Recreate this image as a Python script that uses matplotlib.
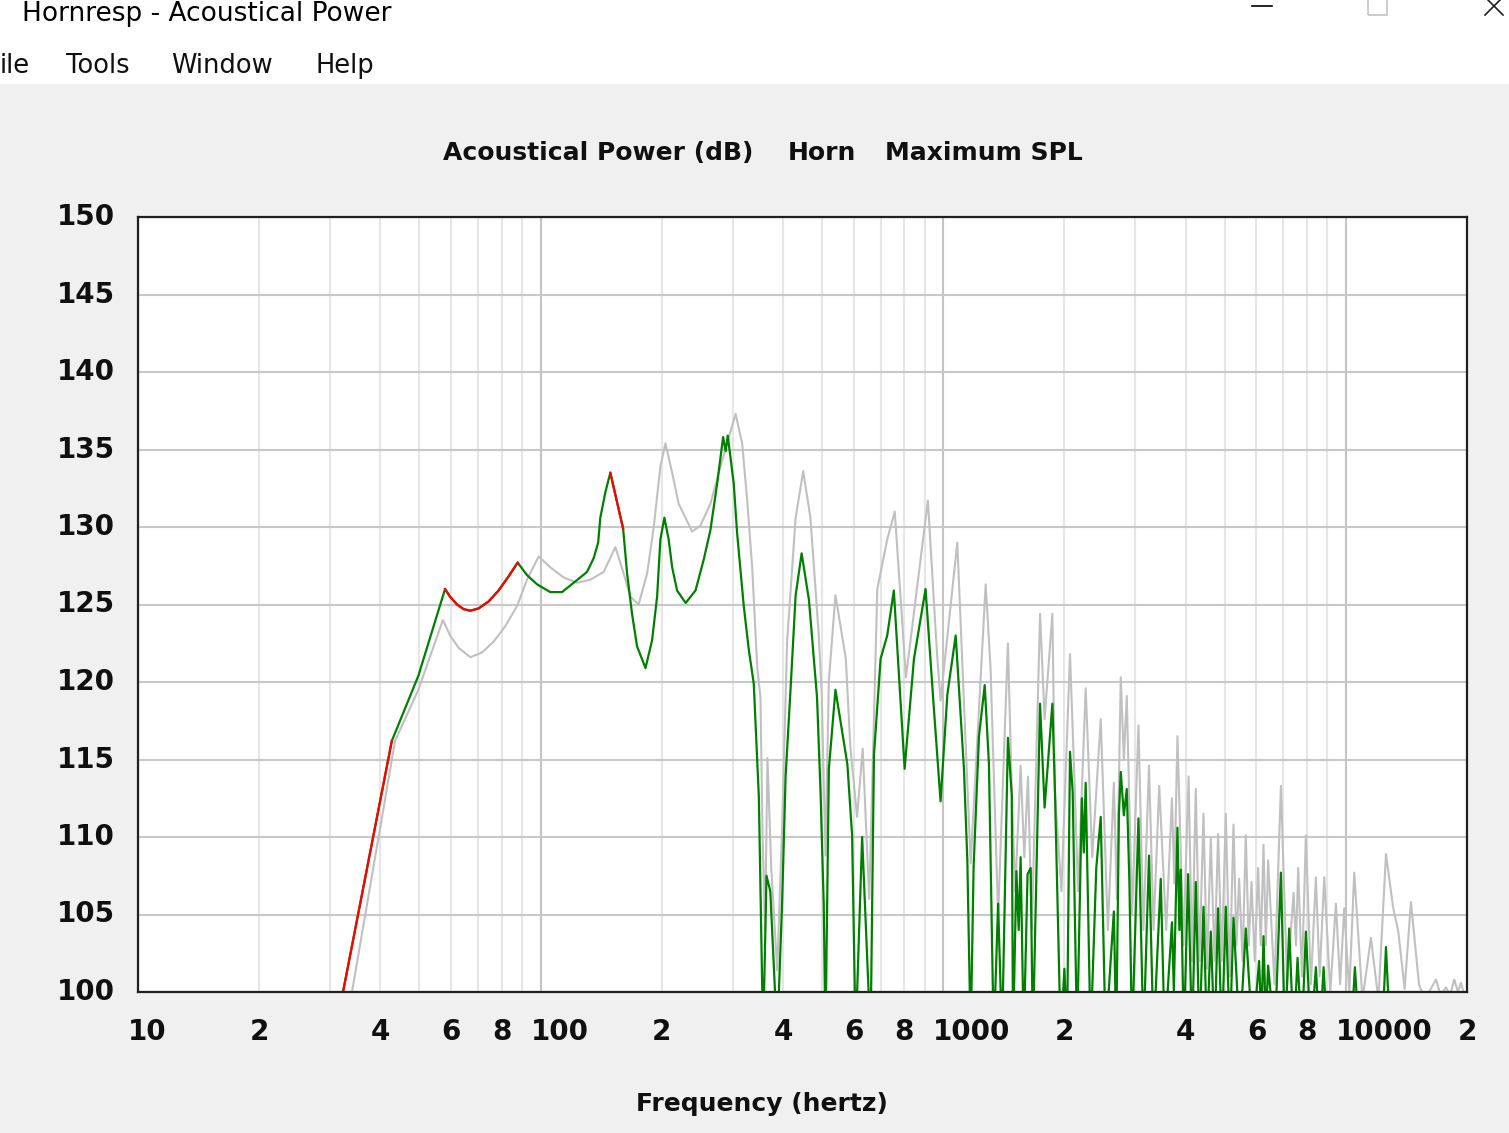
# Hornresp - Acoustical Power (Horn, Maximum SPL)

import matplotlib
matplotlib.use("Agg")
import matplotlib.pyplot as plt
from matplotlib.lines import Line2D
from matplotlib.patches import Rectangle
from matplotlib.transforms import blended_transform_factory, offset_copy

# Maximum SPL trace (green, red where limited)
main_freq = [32.3, 42.7, 49.7, 57.9, 59.6, 62.0, 64.4, 66.9, 70.2, 74.3, 78.6, 83.2, 87.7,
             92.5, 98.0, 105.7, 113.0, 120.8, 130.4, 135.5, 139.0, 140.7, 145.0, 149.0, 160.3,
             164.0, 168.7, 173.6, 182.2, 189.2, 194.7, 198.4, 203.0, 208.0, 212.2, 218.3, 229.2,
             242.5, 254.2, 264.1, 274.5, 284.0, 288.2, 291.6, 301.8, 307.7, 319.6, 328.9, 338.4,
             348.4,
             357, 364, 372, 387, 398, 406, 418, 430, 445, 464, 486, 496, 505, 510, 520, 540,
             578, 594, 606, 629, 660, 673, 699, 726, 754, 802, 846, 904, 948, 985, 1024, 1074,
             1126, 1148, 1170, 1190, 1227, 1268, 1299, 1335, 1369, 1400, 1448, 1480, 1491, 1520,
             1540, 1557, 1585, 1620, 1649, 1670, 1740, 1786, 1867, 1895, 1958, 2000, 2030, 2065,
             2097, 2150, 2210, 2235, 2259, 2323, 2400, 2462, 2532, 2654, 2690, 2732, 2761, 2810,
             2857, 2900, 2945, 3055, 3143, 3245, 3330, 3470, 3550, 3700, 3740, 3818, 3860, 3891,
             3960, 4058, 4150, 4240, 4330, 4431, 4520, 4620, 4720, 4817, 4920, 5034, 5150, 5261,
             5450, 5644, 5870, 6091, 6170, 6246, 6330, 6413, 6660, 6899, 7060, 7234, 7420, 7589,
             7770, 7959, 8190, 8427, 8610, 8808, 9000, 10300, 10534, 10800, 12300, 12582, 12900]
main_db = [100.0, 116.2, 120.4, 126.0, 125.5, 125.0, 124.7, 124.6, 124.75, 125.2, 125.9, 126.8,
           127.7, 126.9, 126.3, 125.8, 125.8, 126.4, 127.1, 128.0, 129.0, 130.6, 132.3, 133.5,
           129.9, 127.0, 124.4, 122.3, 120.9, 122.7, 125.5, 129.2, 130.6, 129.2, 127.4, 125.9,
           125.1, 125.9, 127.9, 129.8, 132.8, 135.8, 134.9, 135.9, 132.8, 129.6, 124.9, 122.1,
           119.9, 112.6,
           97, 107.5, 106.5, 97, 105.8, 113.9, 119.7, 125.6, 128.3, 125.3, 119.0, 112.8, 105.6, 97,
           114.4, 119.5, 114.7, 110.1, 97, 110.0, 97, 115.3, 121.5, 123.0, 125.9, 114.4, 121.5,
           126.0, 118.3, 112.3, 119.2, 123.0, 114.4, 108.5, 97, 108.1, 116.5, 119.8, 114.7, 97,
           105.7, 97, 116.4, 112.7, 97, 107.8, 104.0, 108.7, 97, 107.6, 108.0, 97, 118.6, 111.9,
           118.6, 112.9, 97, 101.5, 97, 115.5, 112.9, 97, 112.5, 109.0, 113.5, 97, 108.0, 111.3,
           97, 105.2, 97, 111.5, 114.2, 111.4, 113.1, 107.2, 97, 111.2, 97, 108.8, 97, 107.3, 97,
           104.5, 100.0, 110.6, 104.0, 107.9, 97, 107.6, 97, 107.1, 97, 105.5, 97, 103.9, 97,
           105.4, 97, 105.5, 97, 104.8, 97, 104.1, 97, 102.0, 98, 103.6, 98, 101.7, 97, 107.7, 97,
           104.1, 97, 102.2, 97, 103.9, 97, 101.6, 97, 101.6, 97, 97, 101.6, 97, 97, 102.9, 97]

# frequency bands drawn in red
red_bands = [(32.3, 42.7), (57.9, 87.7), (149.0, 160.3)]

# Horn trace (grey)
horn_freq = [34.0, 43.5, 49.7, 57.2, 59.6, 62.6, 66.9, 71.5, 76.4, 81.7, 87.4, 92.5, 98.9,
             105.7, 114.0, 123.1, 132.9, 143.4, 153.4, 160.8, 167.1, 175.2, 183.9, 191.0, 198.4,
             204.2, 212.2, 220.3, 237.9, 249.5, 264.1, 279.8, 305.0, 316.7, 326.0, 335.4, 345.1,
             351.6, 356, 361, 366, 374, 387, 398, 409.5,
             430, 449, 468, 490, 499, 510, 520, 540, 573, 588, 611, 631, 655, 686, 726, 758, 808,
             916, 966, 985, 1084, 1170, 1275, 1311, 1369, 1448, 1482, 1510, 1557, 1590, 1624,
             1660, 1740, 1786, 1867, 1895, 1966, 2065, 2118, 2162, 2259, 2345, 2462, 2565, 2654,
             2700, 2761, 2810, 2857, 2945, 3055, 3143, 3245, 3330, 3440, 3580, 3700, 3750, 3818,
             3950, 4070, 4150, 4240, 4330, 4431, 4520, 4620, 4720, 4817, 4920, 5034, 5150, 5261,
             5350, 5433, 5540, 5644, 5740, 5832, 5940, 6056, 6150, 6246, 6330, 6413, 6650, 6899,
             7150, 7418, 7520, 7615, 7780, 7959, 8190, 8427, 8610, 8838, 9150, 9450, 9680, 9908,
             10200, 10493, 11000, 11544, 12050, 12582, 13100, 13501, 14000, 14512, 15200, 15700,
             16749, 17200, 17738, 18150, 18598, 19000, 19325, 19700]
horn_db = [100.0, 116.2, 119.5, 124.0, 123.0, 122.2, 121.6, 121.9, 122.6, 123.6, 124.9, 126.6,
           128.1, 127.4, 126.75, 126.4, 126.6, 127.1, 128.7, 127.0, 125.5, 125.0, 127.0, 130.0,
           133.9, 135.4, 133.5, 131.5, 129.7, 130.1, 131.5, 133.9, 137.3, 135.4, 131.7, 127.4,
           121.0, 119.0, 110.0, 104.0, 115.1, 108.0, 101.4, 110.6, 122.6,
           130.6, 133.6, 130.6, 123.3, 119.4, 108.8, 120.1, 125.6, 121.5,
           115.8, 111.3, 115.7, 106.0, 126.0, 129.2, 131.0, 120.3, 131.7, 121.7, 118.8, 129.0,
           108.3, 126.3, 120.9, 104.9, 122.5, 112.5, 106.5, 114.6, 108.7, 113.9, 104.0, 124.4,
           117.6, 124.4, 112.9, 106.5, 121.8, 113.8, 106.5, 119.6, 108.7, 117.6, 104.0, 113.5,
           106.0, 120.3, 115.0, 119.1, 105.0, 117.2, 104.0, 114.6, 104.0, 113.3, 104.0, 112.5,
           107.0, 116.5, 103.0, 113.9, 102.0, 113.1, 102.0, 111.5, 101.5, 109.9, 102.0, 110.2,
           102.0, 111.5, 101.0, 110.8, 103.0, 107.3, 102.0, 110.1, 103.0, 107.1, 102.0, 108.0,
           103.0, 109.5, 103.0, 108.5, 100.5, 113.3, 100.5, 106.4, 103.0, 108.0, 101.0, 110.1,
           100.5, 107.4, 101.0, 107.4, 100.0, 105.7, 100.5, 105.4, 100.0, 107.7, 99.5, 103.5,
           99.5, 108.9, 105.5, 103.9, 100.2, 105.8, 100.5, 99.5, 100.8, 99.8, 100.3, 99.8, 100.8,
           100.0, 100.6, 99.8]

y_ticks = list(range(100, 151, 5))
x_label_vals = [10, 20, 40, 60, 80, 100, 200, 400, 600, 800, 1000, 2000, 4000, 6000, 8000,
                10000, 20000]
x_label_txt = ["10", "2", "4", "6", "8", "100", "2", "4", "6", "8", "1000", "2", "4", "6", "8",
               "10000", "2"]
decades = [10, 100, 1000, 10000]
minor_x = [m * d for d in decades[:3] for m in range(2, 10)] + [20000]

W, H = 1509, 1133
fig = plt.figure(figsize=(W / 100, H / 100), dpi=100, facecolor="#f0f0f0")


def fx(x):
    return x / W


def fy(y):
    return 1 - y / H


# window chrome: title bar and menu
fig.patches.append(Rectangle((0, fy(84)), 1, 84 / H, transform=fig.transFigure,
                             facecolor="white", edgecolor="none", zorder=0))
fig.text(fx(22), fy(21), "Hornresp - Acoustical Power", fontsize=19, va="baseline")
for word, xpos in [("ile", 0), ("Tools", 66), ("Window", 171), ("Help", 316)]:
    fig.text(fx(xpos), fy(73), word, fontsize=18.5, va="baseline", color="#101010")
fig.lines.append(Line2D([fx(1252), fx(1272)], [fy(6), fy(6)], transform=fig.transFigure,
                        color="black", lw=1.2))
fig.patches.append(Rectangle((fx(1368), fy(15)), 19 / W, 20 / H, transform=fig.transFigure,
                             facecolor="none", edgecolor="#c8c8c8", lw=1.3))
fig.lines.append(Line2D([fx(1485), fx(1503)], [fy(-3), fy(15)], transform=fig.transFigure,
                        color="#202020", lw=1.2))
fig.lines.append(Line2D([fx(1485), fx(1503)], [fy(15), fy(-3)], transform=fig.transFigure,
                        color="#202020", lw=1.2))

# plot area
ax = fig.add_axes([fx(138), fy(992), (1467 - 138) / W, (992 - 217) / H])
ax.set_facecolor("white")
ax.set_xscale("log")
ax.set_xticks(decades)
ax.set_xticks(minor_x, minor=True)
ax.set_yticks(y_ticks)
ax.set_xlim(10, 20000)
ax.set_ylim(100, 150)
ax.tick_params(which="both", length=0, labelbottom=False, labelleft=False)
ax.grid(which="minor", axis="x", color="#e6e6e6", lw=1.5)
ax.grid(which="major", axis="x", color="#c4c4c4", lw=1.5)
ax.grid(which="major", axis="y", color="#c8c8c8", lw=1.5)
ax.set_axisbelow(True)
for s in ax.spines.values():
    s.set_color("#202020")
    s.set_linewidth(1.6)

ax.plot(horn_freq, horn_db, color="#c0c0c0", lw=1.5)
ax.plot(main_freq, main_db, color="#008000", lw=1.6)
for lo, hi in red_bands:
    seg = [(f, d) for f, d in zip(main_freq, main_db) if lo <= f <= hi]
    ax.plot([p[0] for p in seg], [p[1] for p in seg], color="#ff0000", lw=1.6)

# tick labels
font_tick = dict(fontsize=20, fontweight="bold", color="#101010")
xtrans = blended_transform_factory(ax.transData, ax.transAxes)
for v, t in zip(x_label_vals, x_label_txt):
    if len(t) > 1:
        tr = offset_copy(xtrans, fig=fig, x=-10, y=-40, units="dots")
        ax.text(v, 0, t, transform=tr, ha="left", va="center", **font_tick)
    else:
        tr = offset_copy(xtrans, fig=fig, x=0, y=-40, units="dots")
        ax.text(v, 0, t, transform=tr, ha="center", va="center", **font_tick)
ytrans = offset_copy(blended_transform_factory(ax.transAxes, ax.transData), fig=fig,
                     x=-23, y=0, units="dots")
for v in y_ticks:
    ax.text(0, v, str(v), transform=ytrans, ha="right", va="center", **font_tick)

# titles
font_title = dict(fontsize=18, fontweight="bold", color="#101010", va="center")
fig.text(fx(443), fy(153), "Acoustical Power (dB)", ha="left", **font_title)
fig.text(fx(788), fy(153), "Horn", ha="left", **font_title)
fig.text(fx(885), fy(153), "Maximum SPL", ha="left", **font_title)
fig.text(fx(762), fy(1104), "Frequency (hertz)", ha="center", **font_title)

fig.savefig("out.png", dpi=100, facecolor=fig.get_facecolor())
